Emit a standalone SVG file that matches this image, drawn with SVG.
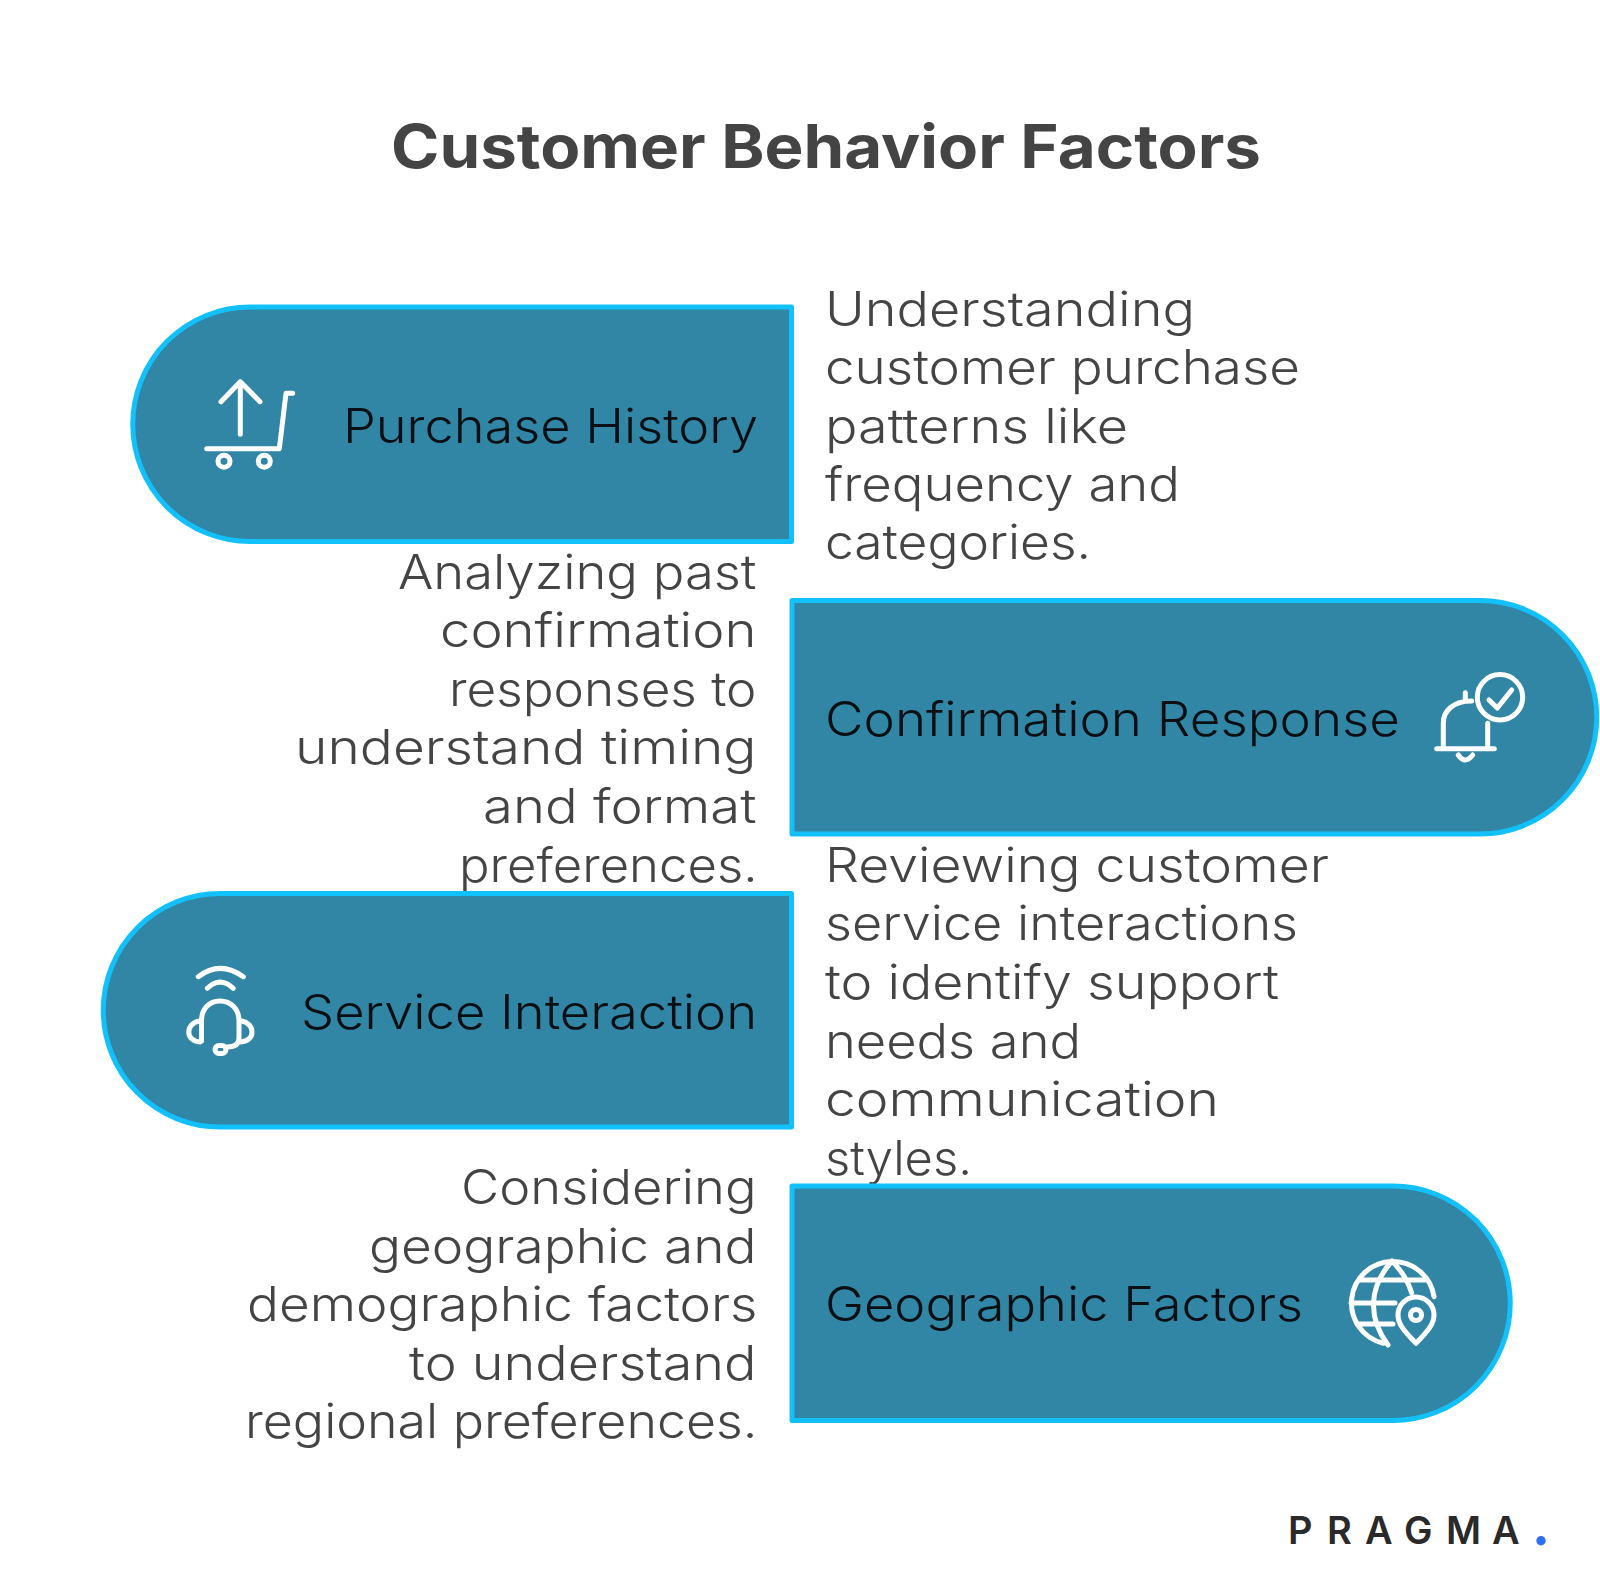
<svg xmlns="http://www.w3.org/2000/svg" width="1600" height="1582" viewBox="0 0 1600 1582">
<style>
text{font-family:"Inter","Liberation Sans",sans-serif}
.d{font-size:48px;font-weight:300;fill:#444444}
.l{font-size:48px;font-weight:300;fill:#0a0f14}
.p{fill:#3286a5;stroke:#12c1fb;stroke-width:5;stroke-linejoin:round}
.i{fill:none;stroke:#fff;stroke-width:5;stroke-linecap:round;stroke-linejoin:round}
</style>
<rect width="1600" height="1582" fill="#fff"/>
<text id="title" x="391" y="168" font-size="60" font-weight="700" fill="#444444" textLength="870" lengthAdjust="spacingAndGlyphs">Customer Behavior Factors</text>
<g id="desc-purchase" class="d" transform="translate(-2 -1.500)">
<text x="827" y="327" textLength="370" lengthAdjust="spacingAndGlyphs">Understanding</text>
<text x="827" y="385.600" textLength="475" lengthAdjust="spacingAndGlyphs">customer purchase</text>
<text x="827" y="444" textLength="303" lengthAdjust="spacingAndGlyphs">patterns like</text>
<text x="827" y="502" textLength="355" lengthAdjust="spacingAndGlyphs">frequency and</text>
<text x="827" y="560.500" textLength="266" lengthAdjust="spacingAndGlyphs">categories.</text>
</g>
<g id="desc-confirmation" class="d" transform="translate(-1 -1.500)">
<text x="399" y="590" textLength="358.500" lengthAdjust="spacingAndGlyphs">Analyzing past</text>
<text x="441" y="648.600" textLength="316.500" lengthAdjust="spacingAndGlyphs">confirmation</text>
<text x="450" y="707" textLength="307.500" lengthAdjust="spacingAndGlyphs">responses to</text>
<text x="296" y="765.800" textLength="461.500" lengthAdjust="spacingAndGlyphs">understand timing</text>
<text x="484" y="824" textLength="273.500" lengthAdjust="spacingAndGlyphs">and format</text>
<text x="460" y="883" textLength="298.500" lengthAdjust="spacingAndGlyphs">preferences.</text>
</g>
<g id="desc-service" class="d" transform="translate(-2 -1.500)">
<text x="827" y="883" textLength="504" lengthAdjust="spacingAndGlyphs">Reviewing customer</text>
<text x="827" y="941.600" textLength="473" lengthAdjust="spacingAndGlyphs">service interactions</text>
<text x="827" y="1000" textLength="454" lengthAdjust="spacingAndGlyphs">to identify support</text>
<text x="827" y="1059" textLength="256" lengthAdjust="spacingAndGlyphs">needs and</text>
<text x="827" y="1117" textLength="394" lengthAdjust="spacingAndGlyphs">communication</text>
<text x="827" y="1176" textLength="147" lengthAdjust="spacingAndGlyphs">styles.</text>
</g>
<g id="desc-geographic" class="d" transform="translate(-1 -1.500)">
<text x="462" y="1205" textLength="295.500" lengthAdjust="spacingAndGlyphs">Considering</text>
<text x="370" y="1264" textLength="387.500" lengthAdjust="spacingAndGlyphs">geographic and</text>
<text x="248" y="1322" textLength="510.500" lengthAdjust="spacingAndGlyphs">demographic factors</text>
<text x="410" y="1381" textLength="347.500" lengthAdjust="spacingAndGlyphs">to understand</text>
<text x="246" y="1439" textLength="512.500" lengthAdjust="spacingAndGlyphs">regional preferences.</text>
</g>
<g id="node-purchase">
<path class="p" d="M791.500 307V541.500H250A117.250 117.250 0 0 1 250 307Z"/>
<text class="l" transform="translate(-2 -1.500)" x="345" y="444" textLength="415" lengthAdjust="spacingAndGlyphs">Purchase History</text>
<g class="i">
<path d="M240.300 434.300V381.700M221 401.700L240.300 381.700L260 401.700"/>
<path d="M206.700 448.700H279.300L286 393.300H292.700"/>
<circle cx="224" cy="461.300" r="6"/>
<circle cx="264.300" cy="461.300" r="6"/>
</g>
</g>
<g id="node-confirmation">
<path class="p" d="M792 600.500V834H1480A116.750 116.750 0 0 0 1480 600.500Z"/>
<text class="l" transform="translate(-2 -1.500)" x="827" y="737" textLength="575" lengthAdjust="spacingAndGlyphs">Confirmation Response</text>
<g class="i">
<circle cx="1500" cy="697.300" r="22.700"/>
<path d="M1489 700L1497.300 708L1511.700 690"/>
<path d="M1443.300 748V723C1443.300 711 1453 701 1471.700 701M1465.300 692.700V701M1487.700 723.300V748.300M1436.700 748.700H1494.300M1458.300 755Q1465 765 1472.700 755"/>
</g>
</g>
<g id="node-service">
<path class="p" d="M791.500 893.500V1127H220A116.750 116.750 0 0 1 220 893.500Z"/>
<text class="l" transform="translate(-2 -1.500)" x="303" y="1030" textLength="456" lengthAdjust="spacingAndGlyphs">Service Interaction</text>
<g class="i">
<path d="M198.300 976.700Q220 960 243.300 976.700M207.300 988.300Q220 976 233.300 988.300"/>
<path d="M201.500 1041V1021C201.500 1009 209 1001 220 1001C231 1001 239 1009 239 1021V1038Q239 1047 227 1047"/>
<path d="M200 1021C185 1023 185 1041 200 1042M241 1021C255.700 1023 255.700 1041 241 1042"/>
<rect x="215" y="1045.500" width="11" height="8" rx="4"/>
</g>
</g>
<g id="node-geographic">
<path class="p" d="M792 1186V1420.500H1393A117.250 117.250 0 0 0 1393 1186Z"/>
<text class="l" transform="translate(-2 -1.500)" x="827" y="1322" textLength="478" lengthAdjust="spacingAndGlyphs">Geographic Factors</text>
<g class="i">
<path d="M1434 1296.700A41.500 41.500 0 1 0 1383.300 1343.300"/>
<path d="M1392 1261C1368 1288 1368 1318 1388 1345M1392 1261C1402 1271 1408 1281 1411.700 1293"/>
<path d="M1360 1280H1426M1351 1303H1395M1357 1324H1393"/>
<path d="M1416 1343.300C1404 1331 1398 1324 1398 1315A18 18 0 0 1 1434 1315C1434 1324 1428 1331 1416 1343.300Z"/>
<circle cx="1416" cy="1315" r="5.500"/>
</g>
</g>
<g id="logo">
<text x="1288 1327 1365 1404 1446 1492" y="1544" font-size="38" font-weight="600" fill="#2a2a2a">PRAGMA</text>
<circle cx="1541" cy="1540.700" r="4.700" fill="#2e6ff2"/>
</g>
</svg>
